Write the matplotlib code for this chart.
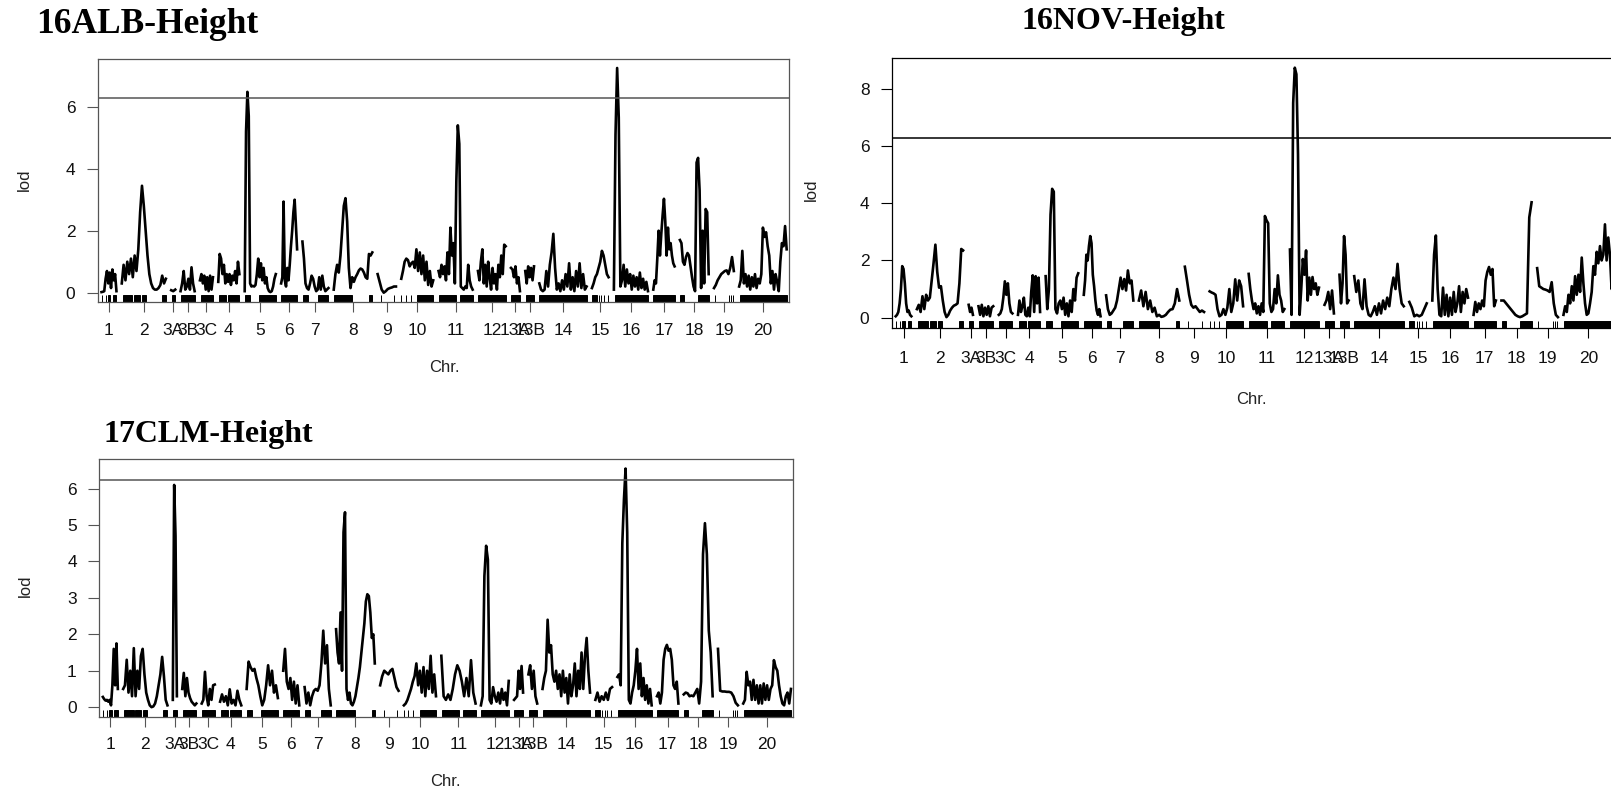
import numpy as np
import matplotlib
matplotlib.use("Agg")
import matplotlib.pyplot as plt
from matplotlib.patches import Rectangle

# genetic map: chromosome names and lengths (cM), gap between chromosomes
chrom_names = ["1", "2", "3A", "3B", "3C", "4", "5", "6", "7", "8", "9", "10",
               "11", "12", "13A", "13B", "14", "15", "16", "17", "18", "19", "20"]
chrom_len = [70, 207, 19, 66, 61, 99, 146, 75, 122, 181, 86, 150,
             160, 130, 42, 41, 222, 78, 160, 100, 135, 93, 223]
gap = 25

# marker positions (cM from chromosome start), dense runs given as (start, end)
rug_blocks = [
    [(2, 2), (19, 19), (30, 42), (53, 70)],
    [(5, 50), (57, 85), (93, 112), (188, 207)],
    [(3, 19)],
    [(3, 66)],
    [(3, 60)],
    [(3, 38), (46, 99)],
    [(0, 27), (67, 146)],
    [(0, 75)],
    [(2, 24), (75, 122)],
    [(0, 88), (166, 181)],
    [(16, 16), (78, 78)],
    [(0, 0), (20, 20), (44, 44), (75, 150)],
    [(3, 81), (100, 160)],
    [(2, 130)],
    [(0, 42)],
    [(2, 41)],
    [(0, 222)],
    [(0, 23), (33, 33), (44, 44), (55, 55), (74, 74)],
    [(3, 160)],
    [(0, 100)],
    [(2, 19), (85, 135)],
    [(5, 5), (70, 70), (81, 81), (89, 89)],
    [(3, 223)],
]

# LOD profiles, one list per chromosome (evenly spaced along the chromosome)
lod_alb = [
    [0.02, 0.03, 0.05, 0.45, 0.7, 0.3, 0.65, 0.15, 0.75, 0.4, 0.6, 0.05],
    [0.3, 0.9, 0.4, 1.0, 0.6, 1.1, 0.5, 1.2, 0.7, 1.4, 2.6, 3.45, 2.8, 2.0, 1.2, 0.6, 0.3, 0.15, 0.1, 0.1, 0.15, 0.25, 0.55, 0.3, 0.45],
    [0.08, 0.05, 0.1],
    [0.05, 0.3, 0.7, 0.1, 0.2, 0.45, 0.1, 0.82, 0.3, 0.05],
    [0.4, 0.6, 0.3, 0.55, 0.1, 0.5, 0.05, 0.55, 0.1, 0.5],
    [0.35, 1.25, 1.1, 0.6, 0.9, 0.3, 0.6, 0.35, 0.6, 0.25, 0.55, 0.4, 0.7, 0.3, 1.0, 0.6],
    [0.05, 5.2, 6.48, 5.7, 0.3, 0.2, 0.22, 0.2, 0.25, 0.6, 1.1, 0.5, 0.95, 0.4, 0.8, 0.3, 0.5, 0.15, 0.05, 0.02, 0.05, 0.2, 0.45, 0.6],
    [0.3, 0.5, 2.94, 0.4, 0.2, 0.8, 0.4, 0.9, 1.5, 2.0, 2.6, 3.0, 2.2, 1.4],
    [1.65, 1.1, 0.3, 0.15, 0.1, 0.3, 0.55, 0.45, 0.2, 0.05, 0.1, 0.5, 0.1, 0.55, 0.2, 0.05, 0.1, 0.15],
    [0.1, 0.6, 0.9, 0.65, 1.2, 2.0, 2.8, 3.05, 2.3, 0.8, 0.15, 0.5, 0.35, 0.5, 0.6, 0.72, 0.78, 0.75, 0.65, 0.5, 0.45, 1.25, 1.2, 1.3],
    [0.6, 0.35, 0.1, 0.0, 0.05, 0.12, 0.15, 0.17, 0.2, 0.2],
    [0.45, 0.7, 1.0, 1.1, 1.05, 0.85, 0.95, 1.0, 0.8, 1.4, 0.7, 1.3, 0.6, 1.2, 0.4, 1.0, 0.25, 0.7, 0.2, 0.4],
    [0.7, 0.5, 0.9, 0.6, 0.85, 0.4, 1.3, 0.6, 2.1, 1.2, 1.6, 0.3, 3.6, 5.4, 4.8, 0.2, 0.15, 0.1, 0.2, 0.15, 0.9, 0.4, 0.2, 0.1],
    [0.7, 0.4, 1.0, 1.4, 0.3, 0.9, 0.2, 1.0, 0.5, 0.1, 0.8, 0.3, 0.6, 0.1, 0.9, 0.5, 1.2, 0.6, 1.55, 1.5],
    [0.8, 0.75, 0.5, 0.85, 0.3, 0.5, 0.05],
    [0.7, 0.3, 0.85, 0.5, 0.8, 0.4, 0.85],
    [0.3, 0.1, 0.05, 0.1, 0.7, 0.2, 0.9, 1.3, 1.9, 0.8, 0.1, 0.3, 0.05, 0.4, 0.1, 0.6, 0.2, 0.95, 0.1, 0.5, 0.05, 0.7, 0.2, 0.95, 0.15, 0.6, 0.1, 0.2],
    [0.15, 0.3, 0.5, 0.6, 0.8, 1.0, 1.35, 1.2, 0.9, 0.6, 0.5],
    [0.1, 5.1, 7.25, 5.65, 0.2, 0.4, 0.9, 0.2, 0.75, 0.3, 0.6, 0.1, 0.55, 0.2, 0.5, 0.1, 0.65, 0.15, 0.45, 0.1, 0.35, 0.05],
    [0.1, 0.4, 0.3, 1.1, 2.0, 1.2, 1.9, 2.5, 3.03, 2.3, 1.2, 2.1, 1.4, 1.6, 1.2, 0.95, 0.85],
    [1.7, 1.6, 1.0, 0.9, 1.15, 1.28, 1.2, 0.85, 0.5, 0.2, 0.05, 4.2, 4.35, 3.3, 0.15, 2.0, 0.3, 2.7, 2.6, 0.6],
    [0.15, 0.25, 0.4, 0.5, 0.6, 0.65, 0.7, 0.72, 0.6, 0.8, 1.15, 0.7],
    [0.2, 0.4, 1.35, 0.3, 0.6, 0.2, 0.55, 0.1, 0.5, 0.2, 0.6, 0.15, 0.45, 0.3, 0.6, 2.1, 1.8, 1.95, 1.5, 1.2, 0.3, 0.7, 0.1, 0.6, 0.35, 0.05, 1.0, 1.6, 1.5, 2.15, 1.4],
]

lod_nov = [
    [0.05, 0.1, 0.2, 0.5, 1.0, 1.8, 1.7, 1.2, 0.5, 0.2, 0.25, 0.1, 0.05],
    [0.3, 0.45, 0.2, 0.75, 0.3, 0.8, 0.6, 0.7, 1.3, 1.9, 2.55, 1.6, 1.05, 1.1, 0.6, 0.2, 0.02, 0.1, 0.25, 0.35, 0.42, 0.45, 0.5, 1.2, 2.4, 2.35],
    [0.45, 0.2, 0.35, 0.1],
    [0.4, 0.1, 0.45, 0.05, 0.35, 0.1, 0.4, 0.05, 0.35, 0.4],
    [0.1, 0.15, 0.3, 0.7, 1.27, 0.8, 1.2, 0.5, 0.2, 0.15],
    [0.1, 0.6, 0.2, 0.4, 0.7, 0.1, 0.05, 0.35, 0.05, 0.9, 1.48, 0.2, 1.45, 0.5, 1.4, 0.2],
    [1.45, 0.3, 1.0, 3.6, 4.5, 4.4, 0.3, 0.15, 0.5, 0.6, 0.3, 0.7, 0.1, 0.5, 0.05, 0.6, 0.2, 1.0, 0.6, 1.4, 1.55],
    [0.8, 1.3, 2.2, 2.0, 2.5, 2.85, 2.6, 1.5, 1.1, 0.6, 0.25, 0.1, 0.3, 0.05],
    [0.78, 0.3, 0.1, 0.15, 0.25, 0.35, 0.6, 1.0, 1.4, 1.0, 1.35, 0.95, 1.65, 1.2, 1.3, 0.6],
    [0.6, 0.95, 0.4, 0.9, 0.3, 0.6, 0.2, 0.35, 0.05, 0.1, 0.03, 0.05, 0.1, 0.2, 0.28, 0.3, 0.5, 1.0, 0.6],
    [1.78, 1.3, 0.8, 0.45, 0.35, 0.4, 0.3, 0.2, 0.25, 0.2],
    [0.92, 0.88, 0.85, 0.8, 0.3, 0.05, 0.1, 0.3, 0.1, 0.35, 1.0, 0.2, 0.5, 1.34, 0.6, 1.3, 1.1, 0.4],
    [1.53, 1.0, 0.6, 0.3, 0.5, 0.15, 0.4, 0.1, 0.5, 0.2, 3.55, 3.4, 3.3, 0.5, 0.2, 0.3, 1.0, 0.5, 1.48, 0.8, 0.6, 0.2, 0.3],
    [2.38, 0.1, 7.5, 8.73, 8.5, 5.7, 0.1, 1.0, 2.05, 1.5, 2.35, 0.6, 1.4, 0.8, 1.42, 1.0, 1.2, 0.8, 1.05],
    [0.45, 0.6, 0.9, 0.3, 0.95, 0.15],
    [1.5, 0.5, 1.2, 2.85, 2.2, 0.5, 0.6],
    [1.45, 0.9, 1.3, 0.5, 0.3, 1.34, 0.4, 0.1, 0.05, 0.2, 0.4, 0.1, 0.5, 0.15, 0.6, 0.3, 0.7, 0.4, 1.0, 1.4, 1.0, 1.88, 1.0, 0.5, 0.4],
    [0.55, 0.35, 0.05, 0.1, 0.05, 0.1, 0.3, 0.5],
    [0.6, 2.2, 2.87, 1.0, 0.1, 0.05, 1.05, 0.1, 0.8, 0.05, 0.7, 0.1, 0.9, 0.2, 0.5, 1.1, 0.2, 0.9, 0.5, 1.0, 0.7],
    [0.1, 0.55, 0.2, 0.5, 0.3, 0.6, 0.4, 1.3, 1.6, 1.77, 1.5, 1.7, 0.4, 0.6],
    [0.6, 0.6, 0.5, 0.4, 0.3, 0.2, 0.1, 0.05, 0.02, 0.05, 0.1, 0.15, 3.5, 4.03],
    [1.73, 1.1, 1.05, 1.0, 0.98, 0.95, 0.9, 1.24, 0.5, 0.1, 0.02],
    [0.1, 0.4, 0.2, 0.8, 0.5, 1.1, 0.6, 1.45, 0.8, 1.5, 0.9, 2.1, 1.2, 0.5, 0.1, 0.15, 0.5, 0.9, 1.8, 1.5, 2.3, 1.9, 2.5, 2.0, 2.2, 3.26, 2.0, 2.8, 2.2, 1.0, 2.6],
]

lod_clm = [
    [0.28, 0.22, 0.18, 0.2, 0.15, 0.2, 0.05, 0.6, 1.6, 0.6, 1.75, 0.5],
    [0.5, 0.6, 1.3, 0.4, 1.0, 0.3, 1.62, 0.3, 1.0, 0.5, 1.4, 1.6, 0.9, 0.4, 0.2, 0.05, 0.0, 0.02, 0.1, 0.3, 0.6, 0.9, 1.38, 0.85, 0.2, 0.05],
    [0.2, 6.1, 4.7, 0.3],
    [0.5, 0.94, 0.3, 0.8, 0.4, 0.25, 0.15, 0.1, 0.05, 0.1],
    [0.1, 0.2, 0.97, 0.3, 0.05, 0.5, 0.2, 0.6, 0.62],
    [0.15, 0.35, 0.15, 0.3, 0.05, 0.49, 0.1, 0.2, 0.05, 0.45, 0.2, 0.05],
    [0.5, 1.25, 1.1, 1.0, 1.05, 0.8, 0.6, 0.3, 0.05, 0.2, 0.6, 1.15, 0.6, 1.0, 0.4, 0.6, 0.25],
    [1.0, 1.6, 0.7, 0.5, 0.8, 0.2, 0.7, 0.1, 0.6, 0.05],
    [0.55, 0.1, 0.4, 0.05, 0.3, 0.45, 0.5, 0.45, 0.6, 1.2, 2.1, 1.2, 1.7, 0.5, 0.05],
    [2.14, 1.5, 1.2, 2.6, 1.0, 4.8, 5.35, 0.5, 0.2, 0.4, 0.1, 0.05, 0.15, 0.3, 0.55, 0.8, 1.1, 1.5, 1.9, 2.3, 2.9, 3.1, 3.05, 2.6, 1.9, 2.0, 1.2],
    [0.6, 0.85, 1.0, 0.95, 0.9, 1.0, 1.05, 0.8, 0.55, 0.45],
    [0.05, 0.1, 0.2, 0.35, 0.5, 0.7, 0.85, 1.2, 0.6, 1.0, 0.4, 1.1, 0.3, 1.0, 0.5, 1.41, 0.4, 0.9, 0.3],
    [1.41, 0.3, 0.2, 0.35, 0.2, 0.5, 0.9, 1.15, 1.0, 0.7, 0.3, 0.8, 0.3, 1.29, 0.4, 0.1],
    [0.05, 0.3, 3.6, 4.43, 4.05, 0.2, 0.1, 0.55, 0.3, 0.15, 0.4, 0.1, 0.5, 0.2, 0.4, 0.05, 0.72],
    [0.2, 0.25, 0.3, 1.0, 0.5, 1.13, 0.4],
    [0.9, 1.15, 0.5, 1.0, 0.3, 0.1],
    [0.5, 0.8, 1.0, 2.4, 1.5, 1.7, 0.9, 0.7, 1.0, 0.5, 0.9, 0.3, 1.0, 0.4, 0.8, 0.1, 0.9, 0.3, 0.6, 1.2, 0.3, 1.0, 0.5, 1.5, 0.5, 1.4, 1.9, 1.0, 0.4],
    [0.2, 0.4, 0.15, 0.3, 0.2, 0.4, 0.2, 0.5, 0.55],
    [0.83, 0.9, 0.6, 4.5, 5.7, 6.55, 4.8, 0.2, 0.1, 0.4, 0.6, 1.0, 1.6, 0.5, 1.2, 0.3, 0.8, 0.2, 0.6, 0.1, 0.5, 0.05],
    [0.3, 0.4, 0.1, 0.4, 1.3, 1.6, 1.71, 1.55, 1.6, 1.3, 0.6, 0.5, 0.7, 0.1],
    [0.35, 0.4, 0.38, 0.3, 0.32, 0.3, 0.4, 0.5, 0.1, 0.7, 4.2, 5.05, 4.2, 2.1, 1.5, 0.3],
    [1.6, 0.45, 0.43, 0.43, 0.42, 0.42, 0.4, 0.3, 0.12, 0.05],
    [0.1, 0.2, 0.97, 0.6, 0.7, 0.2, 0.75, 0.2, 0.6, 0.1, 0.6, 0.1, 0.65, 0.2, 0.6, 0.2, 0.5, 0.6, 1.29, 1.1, 1.0, 0.6, 0.3, 0.1, 0.05, 0.3, 0.4, 0.1, 0.5],
]

# significance thresholds (permutation LOD)
thr_alb = 6.29
thr_nov = 6.26
thr_clm = 6.23

# chromosome starts along the genome axis
starts = np.concatenate([[0], np.cumsum(np.array(chrom_len[:-1]) + gap)])
ends = starts + np.array(chrom_len)
mids = (starts + ends) / 2

W, H = 1611, 791
fig = plt.figure(figsize=(W / 100, H / 100), dpi=100)

sans = "Liberation Sans"
serif = "Liberation Serif"


def px_axes(left, top, right, bottom):
    return fig.add_axes([left / W, 1 - bottom / H, (right - left) / W, (bottom - top) / H])


def lod_panel(ax, lods, thr, yticks, frame, xpad):
    for i, vals in enumerate(lods):
        pos = starts[i] + np.linspace(0, chrom_len[i], len(vals))
        ax.plot(pos, vals, color="black", lw=1.9)
    ymax = max(max(v) for v in lods)
    ax.set_ylim(-0.04 * ymax, 1.04 * ymax)
    ax.set_xlim(starts[0] - 18, ends[-1] + 11)
    ax.axhline(thr, color=frame, lw=1.1)

    # marker rug along the bottom
    xt = ax.get_xaxis_transform()
    for i, blocks in enumerate(rug_blocks):
        for a, b in blocks:
            ax.add_patch(Rectangle((starts[i] + a, 0), b - a, 0.026, transform=xt,
                                   fc="black", ec="black", lw=0.7))

    ax.set_xticks(mids)
    ax.set_xticklabels(chrom_names)
    ax.set_yticks(yticks)
    ax.set_yticklabels([str(t) for t in yticks])
    ax.tick_params(axis="x", length=7, width=0.8, color=frame, pad=xpad,
                   labelsize=12.5, labelcolor="#111111")
    ax.tick_params(axis="y", length=8, width=0.8, color=frame, pad=8,
                   labelsize=12.5, labelcolor="#111111")
    for lab in ax.get_xticklabels() + ax.get_yticklabels():
        lab.set_family(sans)
    for sp in ax.spines.values():
        sp.set_color(frame)
        sp.set_linewidth(0.9)


ax1 = px_axes(97.7, 59, 789, 301.7)
lod_panel(ax1, lod_alb, thr_alb, [0, 2, 4, 6], "#555555", 8.0)

ax2 = px_axes(891.7, 57.7, 1615.7, 327.7)
lod_panel(ax2, lod_nov, thr_nov, [0, 2, 4, 6, 8], "black", 10.0)

ax3 = px_axes(99, 459, 793.3, 716.7)
lod_panel(ax3, lod_clm, thr_clm, [0, 1, 2, 3, 4, 5, 6], "#555555", 7.3)

# panel titles
fig.text(36 / W, 1 - 33 / H, "16ALB-Height", family=serif, weight="bold", fontsize=25.5,
         ha="left", va="baseline")
fig.text(1123 / W, 1 - 29 / H, "16NOV-Height", family=serif, weight="bold", fontsize=23,
         ha="center", va="baseline")
fig.text(103 / W, 1 - 442 / H, "17CLM-Height", family=serif, weight="bold", fontsize=23,
         ha="left", va="baseline")

# axis titles
for x, y in [(24, 180), (811, 190), (25, 586)]:
    fig.text(x / W, 1 - y / H, "lod", family=sans, fontsize=12, rotation=90,
             ha="center", va="center", color="#222222")
for x, y in [(444, 367), (1251, 399), (445, 781)]:
    fig.text(x / W, 1 - y / H, "Chr.", family=sans, fontsize=12,
             ha="center", va="center", color="#222222")

fig.savefig("out.png", dpi=100)
